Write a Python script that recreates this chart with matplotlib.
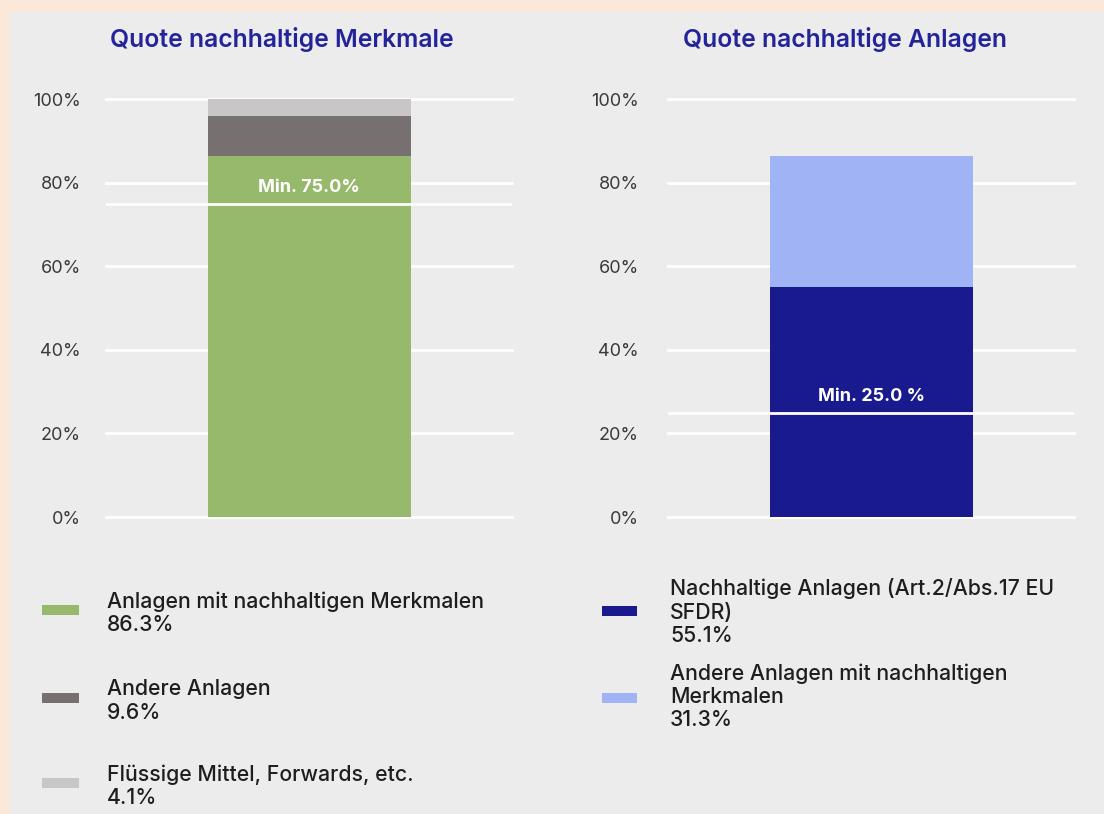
import matplotlib
matplotlib.use("Agg")
import matplotlib.pyplot as plt
from matplotlib.patches import Rectangle

plt.rcParams['font.family'] = ['Inter', 'DejaVu Sans']

# Data
titles = ["Quote nachhaltige Merkmale", "Quote nachhaltige Anlagen"]
left_labels = ["Anlagen mit nachhaltigen Merkmalen", "Andere Anlagen", "Flüssige Mittel, Forwards, etc."]
left_values = [86.3, 9.6, 4.1]
left_colors = ["#97b96b", "#767170", "#c8c6c6"]
right_labels = ["Nachhaltige Anlagen (Art.2/Abs.17 EU\nSFDR)", "Andere Anlagen mit nachhaltigen\nMerkmalen"]
right_values = [55.1, 31.3]
right_colors = ["#1a1a8f", "#9fb3f5"]
min_values = [75.0, 25.0]
min_texts = ["Min. 75.0%", "Min. 25.0 %"]
yticks = [0, 20, 40, 60, 80, 100]
ytick_labels = ["0%", "20%", "40%", "60%", "80%", "100%"]

W, H = 1104, 814
fig = plt.figure(figsize=(W / 100, H / 100), dpi=100)
fig.patch.set_facecolor("#fbe8d8")
fig.patches.append(Rectangle((10 / W, 0), 1 - 10 / W, 1 - 12 / H, transform=fig.transFigure,
                             facecolor="#ececec", edgecolor="none", zorder=-5))

title_color = "#23239a"
text_color = "#1e1e1e"

def make_axes(x0, values, colors, minv, mintext, title, tx, pad):
    ax = fig.add_axes([x0 / W, (H - 517) / H, 406 / W, 418 / H])
    ax.set_facecolor("none")
    ax.set_xlim(-1, 1)
    ax.set_ylim(0, 100)
    bottom = 0
    for v, c in zip(values, colors):
        ax.bar(0, v, width=1.0, bottom=bottom, color=c, zorder=2)
        bottom += v
    for t in yticks:
        ax.axhline(t, color="white", lw=2, zorder=1, clip_on=False)
    ax.axhline(minv, color="white", lw=2, zorder=3)
    ax.text(0, minv + 1.8, mintext, ha="center", va="bottom", color="white",
            fontsize=13, fontweight="bold", zorder=4)
    ax.set_yticks(yticks)
    ax.set_yticklabels(ytick_labels, fontsize=13, color="#3a3a3a")
    ax.set_xticks([])
    ax.tick_params(axis="y", length=0, pad=pad)
    for s in ax.spines.values():
        s.set_visible(False)
    fig.text(tx / W, 1 - 40 / H, title, ha="left", va="center",
             fontsize=17.8, fontweight="semibold", color=title_color)
    return ax

make_axes(106, left_values, left_colors, min_values[0], min_texts[0], titles[0], 110, 18)
make_axes(668, right_values, right_colors, min_values[1], min_texts[1], titles[1], 683, 21)

# Legends (left)
left_patch_y = [610, 698, 783]
for lab, v, c, py in zip(left_labels, left_values, left_colors, left_patch_y):
    fig.patches.append(Rectangle((42 / W, 1 - (py + 5) / H), 37 / W, 10 / H,
                                 transform=fig.transFigure, facecolor=c, edgecolor="none"))
    fig.text(107 / W, 1 - (py + 3) / H, f"{lab}\n{v:.1f}%", ha="left", va="center",
             fontsize=15.3, fontweight="medium", color=text_color, linespacing=1.2)

right_patch_y = [611, 698]
right_text_y = [612, 697]
for lab, v, c, py, ty in zip(right_labels, right_values, right_colors, right_patch_y, right_text_y):
    fig.patches.append(Rectangle((602 / W, 1 - (py + 5) / H), 35 / W, 10 / H,
                                 transform=fig.transFigure, facecolor=c, edgecolor="none"))
    fig.text(670 / W, 1 - ty / H, f"{lab}\n{v:.1f}%", ha="left", va="center",
             fontsize=15.3, fontweight="medium", color=text_color, linespacing=1.2)

fig.savefig("out.png", dpi=100, facecolor=fig.get_facecolor())
